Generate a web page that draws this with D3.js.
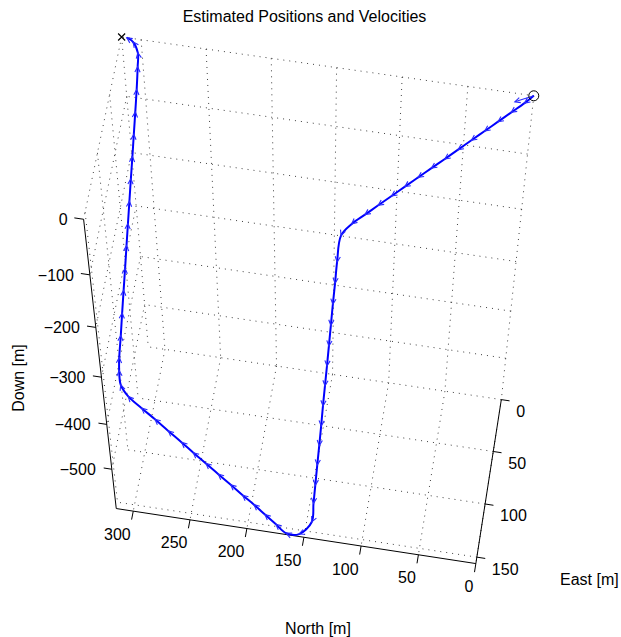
<!DOCTYPE html>
<html><head><meta charset="utf-8">
<script src="https://cdn.jsdelivr.net/npm/d3@7/dist/d3.min.js"></script>
<style>body{margin:0;background:#fff}
svg text{font-family:"Liberation Sans",Arial,Helvetica,sans-serif;font-size:16px;fill:#000}</style>
</head><body>
<svg id="c" width="621" height="637"></svg>
<script>
// ---------- data ----------
const title = "Estimated Positions and Velocities";
const northTicks = [0, 50, 100, 150, 200, 250, 300];
const eastTicks  = [0, 50, 100, 150];
const downTicks  = [0, -100, -200, -300, -400, -500];
const northRange = [0, 315], eastRange = [0, 156], downRange = [-592, 0];

// estimated positions (m), one sample per velocity arrow
const posN = [0, 6.0, 14.7, 23.4, 32.1, 40.8, 49.5, 58.1, 66.8, 75.4, 84.0, 92.6, 101.2, 109.7, 118.2,
  125.8, 128.2, 129.3, 130.5, 131.6, 132.7, 133.8, 135.0, 136.2, 137.3, 138.5, 139.8, 141.1, 142.3, 143.5,
  154.3, 165.5, 175.2, 184.8, 194.3, 204.1, 214.3, 224.8, 235.2, 245.7, 255.3, 266.3, 277.1, 287.8, 298.5, 304.1,
  306.4, 307.4, 306.4, 305.6, 304.7, 303.9, 303.1, 302.4, 301.7, 301.0, 300.3, 299.7, 299.1, 298.6, 298.4, 300.4, 305.6, 311.0];
const posE = [0, 7.3, 16.6, 26.0, 35.4, 44.7, 54.1, 63.4, 72.6, 81.8, 91.0, 100.3, 109.5, 118.7, 127.9,
  129.7, 131.4, 133.1, 134.9, 136.6, 138.4, 140.1, 141.8, 143.6, 145.3, 147.0, 148.8, 150.5, 152.3, 154.0,
  155.0, 156.0, 151.4, 150.5, 149.6, 148.8, 147.9, 147.0, 146.1, 145.3, 144.4, 143.5, 142.6, 141.8, 140.9, 140.0,
  132.2, 124.4, 116.7, 108.9, 101.1, 93.3, 85.6, 77.8, 70.0, 62.2, 54.4, 46.7, 38.9, 31.1, 23.3, 11.5, 2.9, 0];
const posD = [0, 0, 0, 0, 0, 0, 0, 0, 0, 0, 0, 0, 0, 0, 0,
  -19.2, -63.8, -99.6, -135.5, -172.5, -209.2, -245.5, -282.5, -320.5, -359.5, -398.6, -437.6, -479.6, -517.6, -557.6,
  -588.7, -588.9, -583, -566, -549, -533, -515, -497, -479, -461, -444, -425, -406, -388, -369, -349,
  -338, -329, -301, -273, -245, -219, -192, -167, -142, -117, -93.0, -69.3, -45.9, -23.0, 0, 0, 0, 0];
const initialVelocity = [13.3, 7.3, 0];   // drawn arrow at start (scaled)
const startPos = [0, 0, 0], endPos = [315, 0, 0];

// ---------- camera (perspective view of the 3-D box) ----------
const cam = [-0.6401137, -0.05166385, 0.0004829078, 0.00001712544,
             -0.09466849, 0.2872618, -0.4958295, 0.05670087,
             0.004160187, -0.01019932, -0.07795258, 1];
const sN = d3.scaleLinear().domain(northRange).range([-1, 1]);
const sE = d3.scaleLinear().domain(eastRange).range([-1, 1]);
const sD = d3.scaleLinear().domain(downRange).range([-1, 1]);
const sx = d3.scaleLinear().domain([-1, 1]).range([10, 610]);
const sy = d3.scaleLinear().domain([-1, 1]).range([0, 600]);
function proj(N, E, D) {
  const x = sN(N), y = sE(E), z = sD(D);
  const w = cam[8]*x + cam[9]*y + cam[10]*z + cam[11];
  return [sx((cam[0]*x + cam[1]*y + cam[2]*z + cam[3]) / w),
          sy((cam[4]*x + cam[5]*y + cam[6]*z + cam[7]) / w)];
}

const svg = d3.select('#c');
const g = svg.append('g');
function seg(a, b) { const p = proj(...a), q = proj(...b);
  return g.append('line').attr('x1', p[0]).attr('y1', p[1]).attr('x2', q[0]).attr('y2', q[1]); }

const [n0, n1] = northRange, [e0, e1] = eastRange, [d0, d1] = downRange;
// grid on the three back planes
const grid = [];
northTicks.forEach(n => { grid.push([[n, e0, d0], [n, e1, d0]]); grid.push([[n, e0, d1], [n, e0, d0]]); });
eastTicks.forEach(e => { grid.push([[n0, e, d0], [n1, e, d0]]); grid.push([[n1, e, d1], [n1, e, d0]]); });
downTicks.forEach(d => { grid.push([[n1, e0, d], [n1, e1, d]]); grid.push([[n0, e0, d], [n1, e0, d]]); });
grid.forEach(s => seg(s[0], s[1]).attr('stroke', '#000').attr('stroke-width', 1)
  .attr('stroke-dasharray', '1,5').attr('opacity', 0.75));

// axis lines
const axisStyle = s => s.attr('stroke', '#000').attr('stroke-width', 1);
axisStyle(seg([n1, e1, d0], [n0, e1, d0]));
axisStyle(seg([n0, e0, d0], [n0, e1, d0]));
axisStyle(seg([n1, e1, d1], [n1, e1, d0]));

const fmt = v => (v < 0 ? '\u2212' + Math.abs(v) : String(v));
// North ticks + labels
northTicks.forEach(n => {
  axisStyle(seg([n, e1, d0], [n, e1 + 8, d0]));
  const p = proj(n, e1, d0);
  g.append('text').attr('x', p[0] - 2.5).attr('y', p[1] + 28.5).attr('text-anchor', 'end').text(fmt(n));
});
// East ticks + labels
eastTicks.forEach(e => {
  axisStyle(seg([n0, e, d0], [n0 - 7.3, e, d0]));
  const p = proj(n0, e, d0);
  g.append('text').attr('x', p[0] + 15).attr('y', p[1] + 17.4).attr('text-anchor', 'start').text(fmt(e));
});
// Down ticks + labels
downTicks.forEach(d => {
  axisStyle(seg([n1, e1, d], [n1 + 7, e1, d]));
  const p = proj(n1, e1, d);
  g.append('text').attr('x', p[0] - 16).attr('y', p[1] + 5.7).attr('text-anchor', 'end').text(fmt(d));
});

// titles
svg.append('text').attr('x', 304.5).attr('y', 22).attr('text-anchor', 'middle').text(title);
svg.append('text').attr('x', 318).attr('y', 634).attr('text-anchor', 'middle').text('North [m]');
svg.append('text').attr('x', 560).attr('y', 585).attr('text-anchor', 'start').text('East [m]');
svg.append('text').attr('transform', 'translate(24,378) rotate(-90)').attr('text-anchor', 'middle').text('Down [m]');

// trajectory
const pts = posN.map((n, i) => proj(n, posE[i], posD[i]));
g.append('path').attr('d', d3.line().curve(d3.curveCatmullRom.alpha(0.5))(pts))
  .attr('fill', 'none').attr('stroke', '#0000ff').attr('stroke-width', 2).attr('stroke-linejoin', 'round');

// velocity arrows
const arrowCol = '#2a2aff';
function head(tip, dir) {
  const L = 6, a = 0.45;
  const bx = -dir[0], by = -dir[1];
  const l = [tip[0] + L*(bx*Math.cos(a) - by*Math.sin(a)), tip[1] + L*(bx*Math.sin(a) + by*Math.cos(a))];
  const r = [tip[0] + L*(bx*Math.cos(-a) - by*Math.sin(-a)), tip[1] + L*(bx*Math.sin(-a) + by*Math.cos(-a))];
  g.append('path').attr('d', `M${l[0]},${l[1]}L${tip[0]},${tip[1]}L${r[0]},${r[1]}`)
    .attr('fill', 'none').attr('stroke', arrowCol).attr('stroke-width', 1.1);
}
pts.forEach((p, i) => {
  if (i === 0) {
    const q = proj(startPos[0] + initialVelocity[0], startPos[1] + initialVelocity[1], startPos[2] + initialVelocity[2]);
    g.append('line').attr('x1', p[0]).attr('y1', p[1]).attr('x2', q[0]).attr('y2', q[1])
      .attr('stroke', arrowCol).attr('stroke-width', 1.1);
    const dx = q[0] - p[0], dy = q[1] - p[1], m = Math.hypot(dx, dy);
    head(q, [dx/m, dy/m]);
    return;
  }
  const a = pts[Math.max(0, i - 1)], b = pts[Math.min(pts.length - 1, i + 1)];
  const dx = b[0] - a[0], dy = b[1] - a[1], m = Math.hypot(dx, dy);
  head(p, [dx/m, dy/m]);
});

// start / end markers
const s0 = proj(...startPos), s1 = proj(...endPos);
g.append('circle').attr('cx', s0[0]).attr('cy', s0[1]).attr('r', 5).attr('fill', 'none').attr('stroke', '#000').attr('stroke-width', 1);
g.append('path').attr('d', `M${s1[0]-3.5},${s1[1]-3.5}L${s1[0]+3.5},${s1[1]+3.5}M${s1[0]-3.5},${s1[1]+3.5}L${s1[0]+3.5},${s1[1]-3.5}`)
  .attr('stroke', '#000').attr('stroke-width', 1.2);
</script></body></html>
